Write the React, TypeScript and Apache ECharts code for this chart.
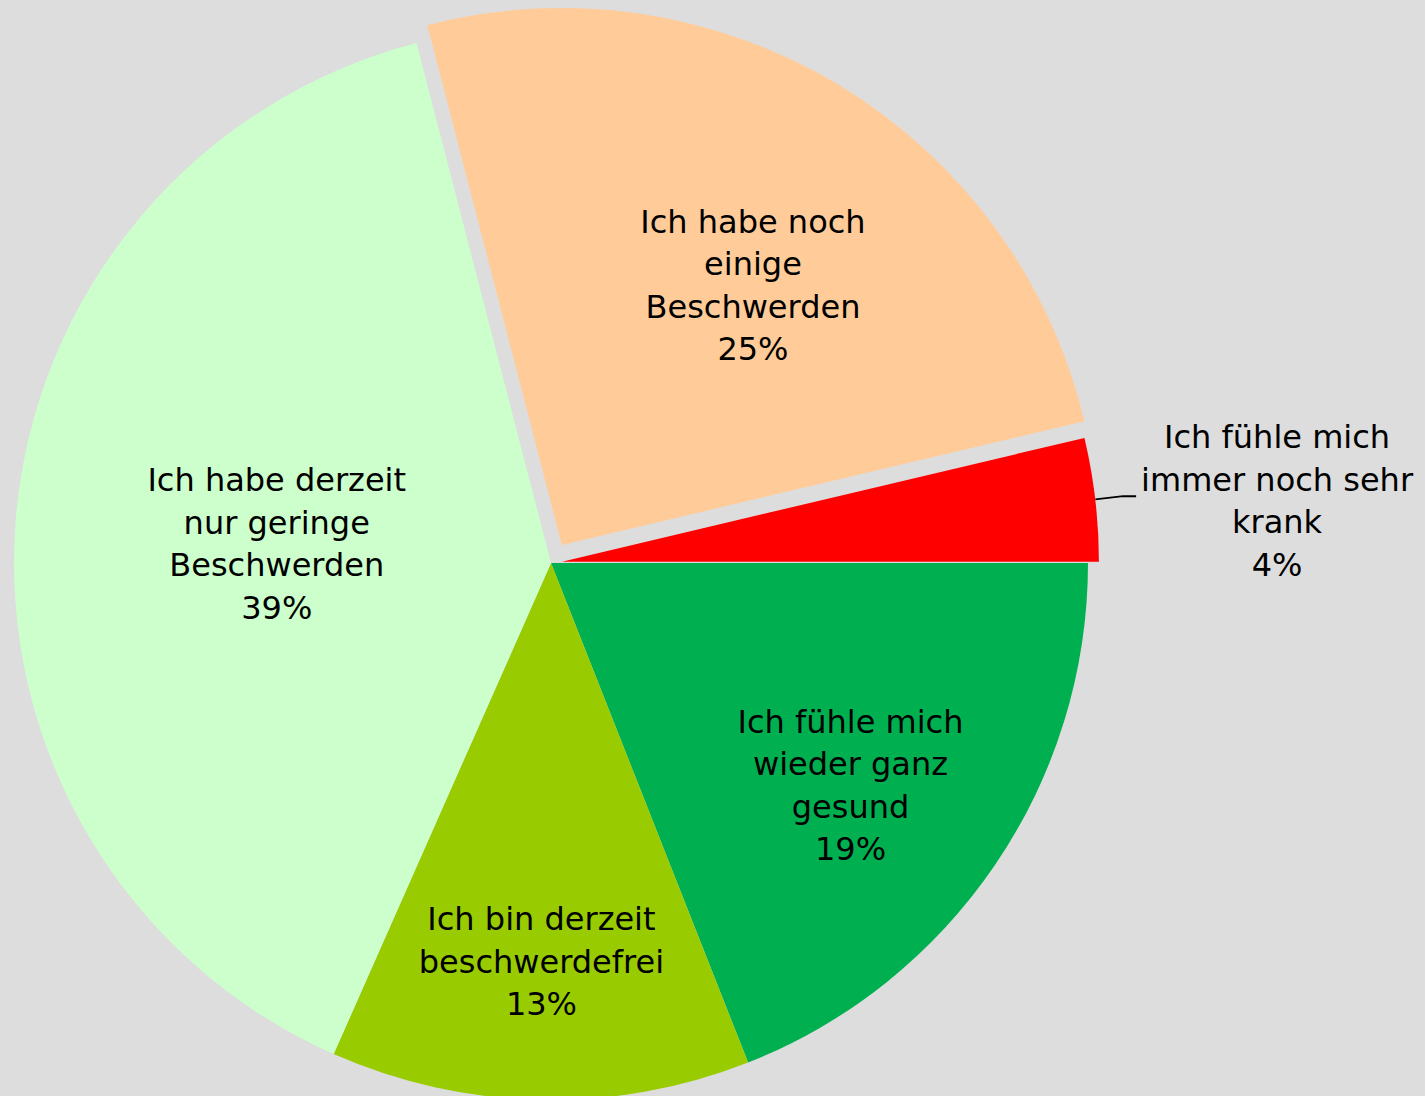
import React, { useEffect, useRef } from "react";
import * as echarts from "echarts";

// ---- data ----
const categories = [
  "Ich fühle mich\nwieder ganz\ngesund",
  "Ich bin derzeit\nbeschwerdefrei",
  "Ich habe derzeit\nnur geringe\nBeschwerden",
  "Ich habe noch\neinige\nBeschwerden",
  "Ich fühle mich\nimmer noch sehr\nkrank",
];
const shares = [19.0, 12.6, 39.3, 25.3, 3.7];

// ---- styles ----
const colors = ["#00B050", "#99CC00", "#CCFFCC", "#FFCC99", "#FF0000"];
const explode = [0, 0, 0, 21, 11];
const labelPlace = ["inside", "inside", "inside", "inside", "outside"];
const labelRadius = [0.695, 0.743, 0.512, 0.6, 0];
const labelTurnDeg = [2.4, 0.2, -0.7, 5.3, 0];

const CX = 551;
const CY = 563;
const R = 537;
const FONT = "DejaVu Sans";

export default function App() {
  const ref = useRef<HTMLDivElement>(null);

  useEffect(() => {
    if (!ref.current) return;
    const chart = echarts.init(ref.current, undefined, { renderer: "svg" });

    const total = shares.reduce((a, b) => a + b, 0);
    const mids: number[] = [];
    let acc = 0;
    shares.forEach((v) => {
      mids.push(((acc + v / 2) / total) * Math.PI * 2);
      acc += v;
    });

    const offsetOf = (i: number) => [
      Math.cos(mids[i]) * explode[i],
      Math.sin(mids[i]) * explode[i],
    ];

    // group slices by explode distance
    const groups: number[][] = [];
    const base = shares.map((_, i) => i).filter((i) => explode[i] === 0);
    groups.push(base);
    shares.forEach((_, i) => {
      if (explode[i] !== 0) groups.push([i]);
    });

    const series = groups.map((vis) => {
      const off = offsetOf(vis[0]);
      const cx = CX + off[0];
      const cy = CY + off[1];
      return {
        type: "pie",
        silent: true,
        startAngle: 0,
        clockwise: true,
        center: [cx, cy],
        radius: R,
        avoidLabelOverlap: false,
        emphasis: { disabled: true },
        label: {
          color: "#000",
          fontFamily: FONT,
          fontSize: 32,
          formatter: (p: any) => `{t|${p.name}\n${Math.round(p.percent)}%}`,
          rich: {
            t: {
              align: "center",
              lineHeight: 42.5,
              fontFamily: FONT,
              fontSize: 32,
              color: "#000",
            },
          },
        },
        labelLine: {
          length: 28,
          length2: 13,
          smooth: false,
          lineStyle: { color: "#000", width: 2 },
        },
        labelLayout: (params: any) => {
          const i = params.dataIndex;
          if (labelPlace[i] !== "inside") return {};
          const a = mids[i] + (labelTurnDeg[i] * Math.PI) / 180;
          return {
            x: cx + Math.cos(a) * R * labelRadius[i],
            y: cy + Math.sin(a) * R * labelRadius[i],
            align: "center",
            verticalAlign: "middle",
          };
        },
        data: shares.map((v, i) => {
          const shown = vis.indexOf(i) >= 0;
          return {
            value: v,
            name: categories[i],
            itemStyle: {
              color: shown ? colors[i] : "rgba(0,0,0,0)",
              borderWidth: 0,
            },
            label: {
              show: shown,
              position: labelPlace[i],
              padding: labelPlace[i] === "outside" ? [10, 0, 0, 0] : 0,
            },
            labelLine: { show: shown && labelPlace[i] === "outside" },
          };
        }),
      };
    });

    chart.setOption({
      animation: false,
      backgroundColor: "#DDDDDD",
      series,
    } as any);

    return () => chart.dispose();
  }, []);

  return (
    <div
      ref={ref}
      style={{ position: "fixed", left: 0, top: 0, width: 1425, height: 1096 }}
    />
  );
}
